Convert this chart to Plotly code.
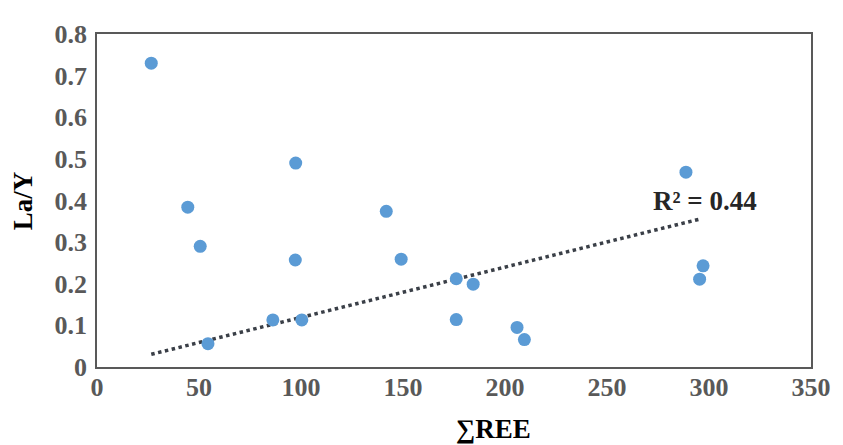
import plotly.graph_objects as go

ree = [26.6, 97.4, 44.5, 50.6, 54.4, 86.2, 97.2, 100.4, 141.8, 149.1,
       176.1, 176.1, 184.4, 205.9, 209.5, 288.7, 297.1, 295.4]
la_y = [0.730, 0.490, 0.384, 0.290, 0.056, 0.113, 0.257, 0.113, 0.374, 0.259,
        0.212, 0.114, 0.199, 0.095, 0.066, 0.468, 0.243, 0.211]

trend_x = [26.6, 295.2]
trend_y = [0.0305, 0.355]

r2_text = "R² = 0.44"

x_ticks = [0, 50, 100, 150, 200, 250, 300, 350]
y_ticks = [0, 0.1, 0.2, 0.3, 0.4, 0.5, 0.6, 0.7, 0.8]
y_tick_labels = ["0", "0.1", "0.2", "0.3", "0.4", "0.5", "0.6", "0.7", "0.8"]

font_family = "Liberation Serif, Times New Roman, serif"

fig = go.Figure()
fig.add_trace(go.Scatter(
    x=trend_x, y=trend_y, mode="lines",
    line=dict(color="#3a3f47", width=3.5, dash="dot"),
    hoverinfo="skip", showlegend=False))
fig.add_trace(go.Scatter(
    x=ree, y=la_y, mode="markers",
    marker=dict(color="#5B9BD5", size=13),
    showlegend=False))

fig.add_annotation(x=298, y=0.40, xref="x", yref="y", text="<b>" + r2_text + "</b>",
                   showarrow=False, font=dict(family=font_family, size=27, color="#262626"))
fig.add_annotation(x=0.556, y=-0.185, xref="paper", yref="paper", text="<b>∑REE</b>",
                   showarrow=False, font=dict(family=font_family, size=27, color="#000000"),
                   xanchor="center", yanchor="middle")
fig.add_annotation(x=-0.104, y=0.5, xref="paper", yref="paper", text="<b>La/Y</b>",
                   showarrow=False, textangle=-90,
                   font=dict(family=font_family, size=27, color="#000000"),
                   xanchor="center", yanchor="middle")

axis_common = dict(showline=True, linecolor="#595959", linewidth=1.5, mirror=True,
                   showgrid=False, zeroline=False, ticks="",
                   tickfont=dict(family=font_family, size=26, color="#595959"))

fig.update_layout(
    width=835, height=437,
    margin=dict(l=89, r=27, t=18, b=78),
    plot_bgcolor="white", paper_bgcolor="white",
    xaxis=dict(range=[0, 350], tickvals=x_ticks,
               ticktext=["<b>%d</b>" % v for v in x_ticks],
               ticklabelstandoff=-4, **axis_common),
    yaxis=dict(range=[0, 0.8], tickvals=y_ticks,
               ticktext=["<b>%s</b>" % t for t in y_tick_labels],
               ticklabelstandoff=3, **axis_common),
)

fig.write_html("out.html")
